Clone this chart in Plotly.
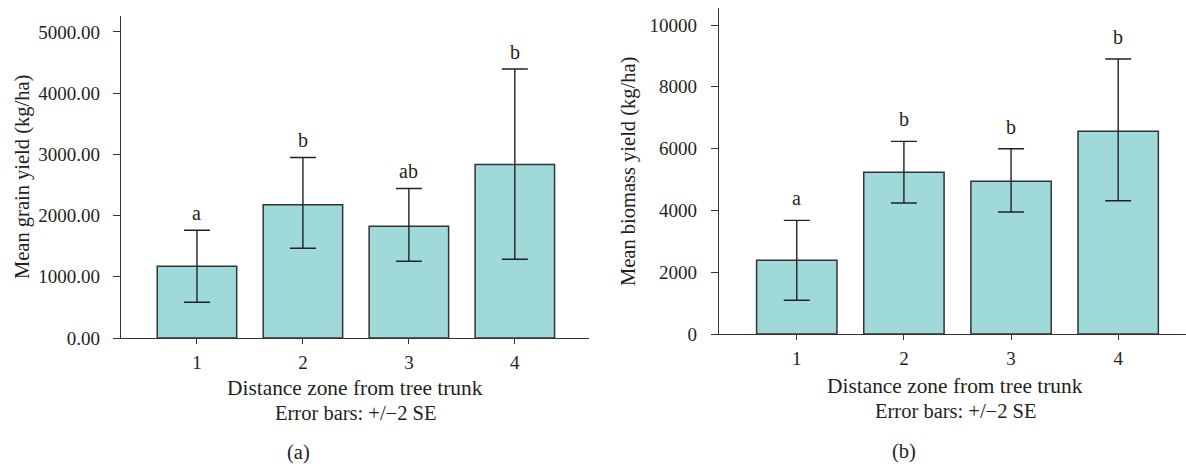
import plotly.graph_objects as go

# ---- data ----
zones = [1, 2, 3, 4]
zone_labels = ["1", "2", "3", "4"]

grain_mean = [1172, 2176, 1827, 2835]
grain_upper = [1761, 2950, 2443, 4395]
grain_lower = [583, 1467, 1254, 1287]
grain_letters = ["a", "b", "ab", "b"]

biomass_mean = [2384, 5232, 4941, 6559]
biomass_upper = [3678, 6235, 5998, 8900]
biomass_lower = [1090, 4239, 3948, 4315]
biomass_letters = ["a", "b", "b", "b"]

grain_ticks = [0, 1000, 2000, 3000, 4000, 5000]
biomass_ticks = [0, 2000, 4000, 6000, 8000, 10000]

# ---- styling ----
FONT = "Liberation Serif"
TXT = "#231f20"
LINE = "#333333"
FILL = "#a0d9d9"
W, H = 1186, 464

def px_x(p):
    return p / W

def px_y(p):
    return 1 - p / H

fig = go.Figure()

def add_panel(mean, upper, lower, xa, ya):
    plus = [u - m for u, m in zip(upper, mean)]
    minus = [m - l for m, l in zip(mean, lower)]
    fig.add_trace(go.Bar(
        x=zones, y=mean, xaxis=xa, yaxis=ya,
        marker=dict(color=FILL, line=dict(color=LINE, width=1.5)),
        error_y=dict(type="data", array=plus, arrayminus=minus, symmetric=False,
                     color="#222222", thickness=1.4, width=13),
        showlegend=False, hoverinfo="skip",
    ))

add_panel(grain_mean, grain_upper, grain_lower, "x", "y")
add_panel(biomass_mean, biomass_upper, biomass_lower, "x2", "y2")

axis_common = dict(
    showline=True, linecolor=LINE, linewidth=1.3, showgrid=False, zeroline=False,
    ticks="outside", tickcolor=LINE, tickwidth=1.3, automargin=False,
    tickfont=dict(family=FONT, size=19, color=TXT),
)

fig.update_layout(
    template="none",
    width=W, height=H, margin=dict(l=0, r=0, t=0, b=0, pad=0, autoexpand=False),
    paper_bgcolor="white", plot_bgcolor="white",
    bargap=0.25,
    font=dict(family=FONT, color=TXT),
    xaxis=dict(domain=[px_x(121), px_x(589)], range=[0.283, 4.70],
               tickvals=zones, ticktext=zone_labels, ticklen=5,
               ticklabelstandoff=2, anchor="y", **axis_common),
    yaxis=dict(domain=[px_y(338), px_y(16)], range=[0, 5261],
               tickvals=grain_ticks, tickformat=".2f", ticklen=7,
               ticklabelstandoff=9, anchor="x", **axis_common),
    xaxis2=dict(domain=[px_x(719), 1.0], range=[0.274, 4.633],
                tickvals=zones, ticktext=zone_labels, ticklen=5,
                ticklabelstandoff=2, anchor="y2", **axis_common),
    yaxis2=dict(domain=[px_y(334), px_y(8)], range=[0, 10551],
                tickvals=biomass_ticks, tickformat="d", ticklen=7,
                ticklabelstandoff=10, anchor="x2", **axis_common),
)

ann = []
# significance letters
for z, u, t in zip(zones, grain_upper, grain_letters):
    ann.append(dict(x=z, y=u, xref="x", yref="y", text=t, showarrow=False,
                    yanchor="bottom", yshift=4, font=dict(family=FONT, size=20, color=TXT)))
for z, u, t in zip(zones, biomass_upper, biomass_letters):
    ann.append(dict(x=z, y=u, xref="x2", yref="y2", text=t, showarrow=False,
                    yanchor="bottom", yshift=9, font=dict(family=FONT, size=20, color=TXT)))

def label(xp, yp, text, size=21, angle=0):
    return dict(x=px_x(xp), y=px_y(yp), xref="paper", yref="paper", text=text,
                showarrow=False, xanchor="center", yanchor="middle", textangle=angle,
                font=dict(family=FONT, size=size, color=TXT))

ann += [
    label(22, 177, "Mean grain yield (kg/ha)", size=20.5, angle=-90),
    label(355, 388, "Distance zone from tree trunk", size=21.4),
    label(355, 413, "Error bars: +/\u22122 SE", size=20.5),
    label(298, 452, "(a)", size=20.5),
    label(628, 172, "Mean biomass yield (kg/ha)", size=20.5, angle=-90),
    label(955, 386, "Distance zone from tree trunk", size=21.4),
    label(955, 411, "Error bars: +/\u22122 SE", size=20.5),
    label(904, 451, "(b)", size=20.5),
]
fig.update_layout(annotations=ann)

page_fix = (
    "document.documentElement.style.margin='0';"
    "document.documentElement.style.overflow='hidden';"
    "document.body.style.margin='0';"
    "document.body.style.overflow='hidden';"
)

fig.write_html("out.html", post_script=page_fix, config={"displayModeBar": False})
